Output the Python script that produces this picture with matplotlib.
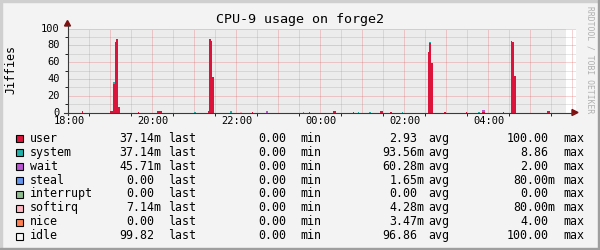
import matplotlib
matplotlib.use("Agg")
import matplotlib.pyplot as plt
from matplotlib.patches import Rectangle, Polygon
from matplotlib.lines import Line2D
from matplotlib.ticker import MultipleLocator

# samples, minutes after 18:00 (window start / end) and jiffies per state
t_start = [20.3, 60.7, 64.6, 67.9, 69.7, 72.1, 100.3, 128.3, 181.1, 201.1,
           202.6, 204.6, 206.9, 232.1, 246.4, 264.0, 283.1, 336.9, 345.0, 379.7,
           407.4, 415.4, 430.7, 446.4, 460.7, 477.4, 515.4, 516.9, 519.3, 537.9,
           568.9, 586.9, 592.6, 622.6, 633.6, 635.4, 637.9, 685.4]
t_end = [22.6, 64.6, 67.9, 69.7, 72.1, 75.0, 102.1, 135.0, 183.1, 202.6,
         204.6, 206.9, 209.3, 235.0, 248.9, 265.4, 286.0, 338.3, 346.4, 383.1,
         409.3, 416.9, 433.1, 451.1, 463.1, 478.9, 516.9, 519.3, 521.7, 540.3,
         570.3, 589.3, 596.4, 624.0, 635.4, 637.9, 640.3, 689.3]
user = [1.5, 1.5, 34.5, 84.5, 88, 7, 1, 1.2, 0, 1.5,
        88, 85, 42, 0, 0, 1, 0, 0, 0.8, 1.2,
        0.8, 0, 0, 1.2, 1, 0, 72, 83, 58.7, 1,
        1, 0, 0.8, 0.8, 85.7, 84.5, 44, 2]
system = [0, 0, 1.8, 0, 0, 0, 0, 0.4, 1, 0,
          0, 0, 0, 1.2, 0, 0, 0, 0.8, 0, 0,
          0, 1, 1, 0, 0, 0.8, 0, 1.5, 0, 0,
          0, 1, 0, 0, 0, 0, 0, 0]
wait = [0, 0, 0, 0, 0, 0, 0, 0, 0, 0,
        0, 0, 0, 0, 0, 0, 1.2, 0, 0, 0,
        0, 0, 0, 0, 0, 0, 0, 0, 0, 0,
        0, 0, 2, 0, 0, 0, 0, 0]
softirq = [0, 0, 0, 0, 0, 0, 0, 0, 0, 0,
           0, 0, 0, 0, 1, 0, 0, 0, 0, 0,
           0, 0, 0, 0, 0, 0, 0, 0, 0, 0,
           0, 0, 0, 0, 0, 0, 0, 0]
data_end = 712      # last sample, minutes after 18:00
total = 100         # all states stack up to this

names = ["user", "system", "wait", "steal", "interrupt", "softirq", "nice", "idle"]
colors = ["#dc143c", "#20b2aa", "#ba55d3", "#6495ed", "#8fbc8f", "#ffb6c1",
          "#ff7f50", "#f7f7f7"]
last = [0.03714, 0.03714, 0.04571, 0.0, 0.0, 0.00714, 0.0, 99.82]
mins = [0.0, 0.0, 0.0, 0.0, 0.0, 0.0, 0.0, 0.0]
avgs = [2.93, 0.09356, 0.06028, 0.00165, 0.0, 0.00428, 0.00347, 96.86]
maxs = [100.0, 8.86, 2.00, 0.08, 0.0, 0.08, 4.00, 100.0]
hour_labels = ["18:00", "20:00", "22:00", "00:00", "02:00", "04:00"]
y_ticks = [0, 20, 40, 60, 80, 100]

W, H = 600, 250
MONO = "DejaVu Sans Mono"
IDLE_AREA = "#ececec"


def fx(px):
    return px / W


def fy(py):
    return 1 - py / H


def si(v):
    if 0 < abs(v) < 1:
        return f"{v * 1000:.2f}m"
    return f"{v:.2f}"


fig = plt.figure(figsize=(W / 100, H / 100), dpi=100, facecolor="#f3f3f3")

# plot canvas: x in hours after 18:00, 42 px per hour
x0, x1, ytop, ybot = 67.5, 576, 28.5, 112.5
ax = fig.add_axes([fx(x0), fy(ybot), fx(x1) - fx(x0), fy(ytop) - fy(ybot)])
ax.set_facecolor("white")
ax.set_xlim(0, (x1 - x0) / 42)
ax.set_ylim(0, 100)
for s in ax.spines.values():
    s.set_visible(False)
ax.tick_params(length=0, labelbottom=False, labelleft=False)

ax.fill_between([0, data_end / 60], 0, total, color=IDLE_AREA, lw=0, zorder=1)

ax.xaxis.set_major_locator(MultipleLocator(1))
ax.xaxis.set_minor_locator(MultipleLocator(0.5))
ax.yaxis.set_major_locator(MultipleLocator(20))
ax.yaxis.set_minor_locator(MultipleLocator(10))
ax.grid(which="minor", color="#8f8f8f", alpha=0.45, lw=0.72, ls=(0, (1, 1)), zorder=2)
ax.grid(which="major", color="#de5050", alpha=0.5, lw=0.72, ls=(0, (1, 1)), zorder=2)
ax.set_axisbelow(False)

left = [a / 60 for a in t_start]
width = [(b - a) / 60 for a, b in zip(t_start, t_end)]
bottom = [0.0] * len(left)
for vals, col in [(user, colors[0]), (system, colors[1]), (wait, colors[2]),
                  (softirq, colors[5])]:
    ax.bar(left, vals, width=width, bottom=bottom, align="edge", color=col,
           lw=0, zorder=3)
    bottom = [b + v for b, v in zip(bottom, vals)]

# tick labels
xt = ax.get_xaxis_transform()
for lab in hour_labels:
    h = (int(lab[:2]) - 18) % 24
    ax.text(h + 1.5 / 42, -(121 - ybot) / 84, lab, transform=xt, ha="center",
            va="center", fontsize=7.5, family=MONO)
yt = ax.get_yaxis_transform()
for v in y_ticks:
    ax.text(-(x0 - 59.5) / (x1 - x0), v, str(v), transform=yt, ha="right",
            va="center", fontsize=7.5, family=MONO)

# axes with arrows
axis_col, arrow_col = "#3a3a3a", "#7f1010"
fig.add_artist(Line2D([fx(64), fx(574)], [fy(ybot)] * 2, color=axis_col, lw=0.8))
fig.add_artist(Line2D([fx(x0)] * 2, [fy(ybot + 2), fy(25)], color=axis_col, lw=0.8))
fig.add_artist(Polygon([[fx(572), fy(ybot - 3)], [fx(578), fy(ybot)],
                        [fx(572), fy(ybot + 3)]], closed=True, color=arrow_col,
                       transform=fig.transFigure))
fig.add_artist(Polygon([[fx(x0 - 3), fy(26)], [fx(x0), fy(20.5)],
                        [fx(x0 + 3), fy(26)]], closed=True, color=arrow_col,
                       transform=fig.transFigure))

fig.text(fx(300), fy(19), "CPU-9 usage on forge2", ha="center", va="center",
         fontsize=9.6, family=MONO)
fig.text(fx(11), fy(70), "Jiffies", ha="center", va="center", rotation=90,
         fontsize=8.4, family=MONO)
fig.text(fx(590), fy(60), "RRDTOOL / TOBI OETIKER", ha="center", va="center",
         rotation=270, fontsize=5.8, family=MONO, color="#b0b0b0")

# legend rows
num_end = [161.5, 293, 424.5, 555.5]
word_x = [168, 300, 428, 563]
words = ["last", "min", "avg", "max"]
for i, name in enumerate(names):
    yc = 138.3 + 13.91 * i
    fig.add_artist(Rectangle((fx(15.5), fy(yc + 4)), 7 / W, 7 / H, facecolor=colors[i],
                             edgecolor="black", lw=0.8, transform=fig.transFigure))
    fig.text(fx(30), fy(yc), name, ha="left", va="center", fontsize=8.4, family=MONO)
    for j, col in enumerate([last, mins, avgs, maxs]):
        s = si(col[i])
        end = num_end[j] - (0 if s.endswith("m") else 7)
        fig.text(fx(end), fy(yc), s, ha="right", va="center", fontsize=8.4,
                 family=MONO)
        fig.text(fx(word_x[j]), fy(yc), words[j], ha="left", va="center",
                 fontsize=8.4, family=MONO)

# 3d frame
fig.add_artist(Rectangle((0, fy(2)), 1, 2 / H, color="#cfcfcf", transform=fig.transFigure))
fig.add_artist(Rectangle((0, 0), 2 / W, 1, color="#cfcfcf", transform=fig.transFigure))
fig.add_artist(Rectangle((0, 0), 1, 2 / H, color="#9e9e9e", transform=fig.transFigure))
fig.add_artist(Rectangle((fx(598), 0), 2 / W, 1, color="#9e9e9e", transform=fig.transFigure))

fig.savefig("out.png", dpi=100, facecolor=fig.get_facecolor())
